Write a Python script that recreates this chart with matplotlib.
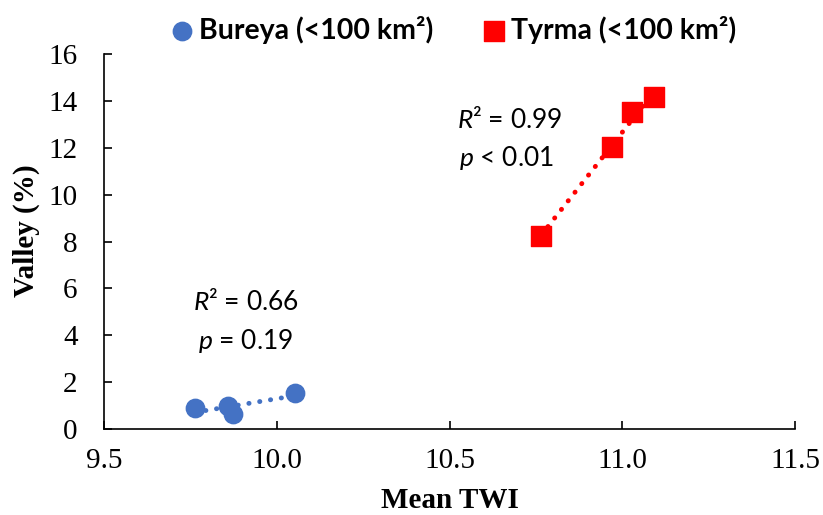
import numpy as np
import matplotlib.pyplot as plt

# %% Data
bureya_twi = [9.763, 9.859, 9.873, 10.053]
bureya_valley = [0.90, 0.98, 0.64, 1.54]
tyrma_twi = [10.765, 10.970, 11.028, 11.092]
tyrma_valley = [8.23, 12.03, 13.52, 14.16]

x_ticks = [9.5, 10.0, 10.5, 11.0, 11.5]
y_ticks = [0, 2, 4, 6, 8, 10, 12, 14, 16]

blue = '#4472C4'
red = '#FF0000'

plt.rcParams['mathtext.fontset'] = 'custom'
plt.rcParams['mathtext.rm'] = 'Lato'
plt.rcParams['mathtext.it'] = 'Lato:italic'

# %% Figure
fig = plt.figure(figsize=(8.23, 5.15), dpi=100)
ax = fig.add_axes([0.1264, 0.167, 0.8396, 0.728])

ax.scatter(bureya_twi, bureya_valley, s=175, color=blue, marker='o', zorder=3, label='Bureya (<100 km²)')
ax.scatter(tyrma_twi, tyrma_valley, s=190, color=red, marker='s', zorder=3, label='Tyrma (<100 km²)')

# linear trendlines
for xs, ys, c in [(bureya_twi, bureya_valley, blue), (tyrma_twi, tyrma_valley, red)]:
    k, b = np.polyfit(xs, ys, 1)
    xx = np.array([min(xs), max(xs)])
    ax.plot(xx, k * xx + b, color=c, linestyle=(0, (0.05, 2.2)), linewidth=3.5,
            dash_capstyle='round', zorder=2)

ann = dict(fontsize=19, family='Lato', ha='center', va='center')
ax.text(9.911, 5.42, r'$R$² = 0.66', **ann)
ax.text(9.911, 3.75, r'$p$ = 0.19', **ann)
ax.text(10.675, 13.18, r'$R$² = 0.99', **ann)
ax.text(10.666, 11.56, r'$p$ < 0.01', **ann)

ax.set_xlim(9.5, 11.5)
ax.set_ylim(0, 16)
ax.set_xticks(x_ticks)
ax.set_xticklabels(['{:.1f}'.format(v) for v in x_ticks])
ax.set_yticks(y_ticks)
for lab in ax.get_xticklabels() + ax.get_yticklabels():
    lab.set_family('Liberation Serif')
    lab.set_fontsize(21)
ax.tick_params(direction='in', length=6, width=1.2, color='black')
ax.tick_params(axis='y', pad=19)
ax.tick_params(axis='x', pad=14)
ax.spines['top'].set_visible(False)
ax.spines['right'].set_visible(False)
for s in ['left', 'bottom']:
    ax.spines[s].set_linewidth(1.2)

fig.text(0.5462, 0.002, 'Mean TWI', family='Liberation Serif', fontsize=21,
         fontweight='bold', ha='center', va='bottom')
fig.text(0.032, 0.553, 'Valley (%)', family='Liberation Serif', fontsize=21,
         fontweight='bold', ha='center', va='center', rotation=90)

fig.legend(loc='center', bbox_to_anchor=(0.551, 0.942), ncol=2, frameon=False,
           prop={'family': 'Lato', 'weight': 'bold', 'size': 20.5},
           handlelength=0.8, handletextpad=0.2, columnspacing=1.75,
           markerscale=1.0, borderpad=0, borderaxespad=0)

plt.savefig('out.png', dpi=100, facecolor='white')
